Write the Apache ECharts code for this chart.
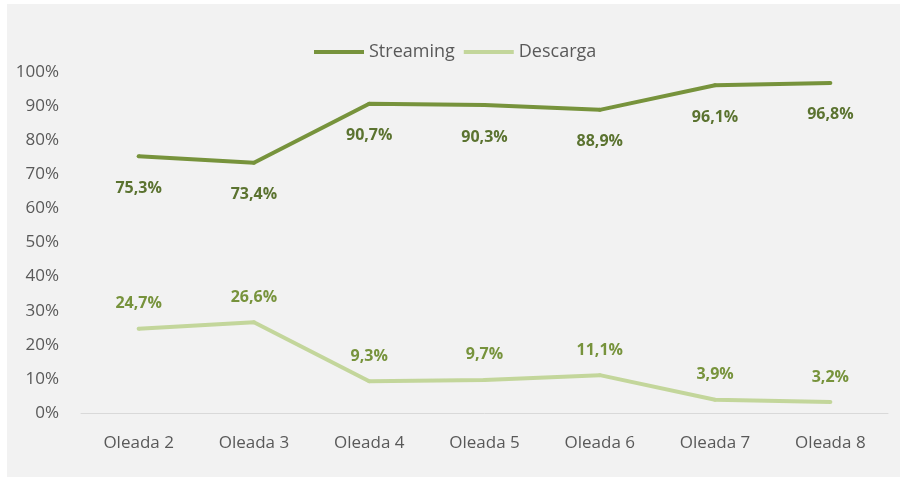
<!DOCTYPE html>
<html>
<head>
<meta charset="utf-8">
<script src="https://cdn.jsdelivr.net/npm/echarts@6/dist/echarts.min.js"></script>
<style>
  html, body { margin: 0; padding: 0; background: #ffffff; }
  #chart {
    position: absolute;
    left: 7px;
    top: 4px;
    width: 893px;
    height: 473px;
    background: #f2f2f2;
  }
</style>
</head>
<body>
<div id="chart"></div>
<script>
// datos
const categories = ['Oleada 2', 'Oleada 3', 'Oleada 4', 'Oleada 5', 'Oleada 6', 'Oleada 7', 'Oleada 8'];
const streaming = [75.3, 73.4, 90.7, 90.3, 88.9, 96.1, 96.8];
const descarga = [24.7, 26.6, 9.3, 9.7, 11.1, 3.9, 3.2];

const font = '"Open Sans", sans-serif';
const fmt = (p) => p.value.toFixed(1).replace('.', ',') + '%';

const myChart = echarts.init(document.getElementById('chart'));

const option = {
  animation: false,
  textStyle: { fontFamily: font },
  legend: {
    left: 302,
    top: 34,
    itemWidth: 50,
    itemHeight: 4,
    itemGap: 9,
    icon: 'rect',
    textStyle: { color: '#595959', fontSize: 18, fontFamily: font },
    data: ['Streaming', 'Descarga'],
  },
  grid: {
    left: 74,
    right: 12,
    top: 68,
    bottom: 64,
  },
  xAxis: {
    type: 'category',
    data: categories,
    axisLine: { lineStyle: { color: '#d9d9d9', width: 1 } },
    axisTick: { show: false },
    axisLabel: { color: '#595959', fontSize: 17, margin: 22, fontFamily: font },
  },
  yAxis: {
    type: 'value',
    min: 0,
    max: 100,
    interval: 10,
    axisLine: { show: false },
    axisTick: { show: false },
    splitLine: { show: false },
    axisLabel: { color: '#595959', fontSize: 17, margin: 22, formatter: '{value}%', fontFamily: font },
  },
  series: [
    {
      name: 'Streaming',
      type: 'line',
      data: streaming,
      symbol: 'circle',
      symbolSize: 4,
      color: '#77933c',
      itemStyle: { color: '#77933c' },
      lineStyle: { width: 4, color: '#77933c' },
      label: {
        show: true,
        position: 'bottom',
        distance: 22,
        formatter: fmt,
        color: '#5b7330',
        fontWeight: 'bold',
        fontSize: 16,
        fontFamily: font,
      },
    },
    {
      name: 'Descarga',
      type: 'line',
      data: descarga,
      symbol: 'circle',
      symbolSize: 4,
      color: '#c3d69b',
      itemStyle: { color: '#c3d69b' },
      lineStyle: { width: 4, color: '#c3d69b' },
      label: {
        show: true,
        position: 'top',
        distance: 15,
        formatter: fmt,
        color: '#77933c',
        fontWeight: 'bold',
        fontSize: 16,
        fontFamily: font,
      },
    },
  ],
};

myChart.setOption(option);
</script>
</body>
</html>
